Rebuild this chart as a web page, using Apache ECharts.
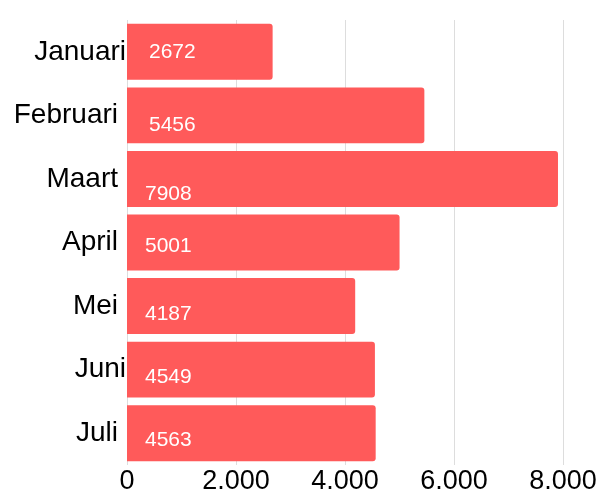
<!DOCTYPE html>
<html>
<head>
<meta charset="utf-8">
<script src="https://cdn.jsdelivr.net/npm/echarts@6/dist/echarts.min.js"></script>
<style>html,body{margin:0;padding:0;background:#fff;}#c{width:603px;height:490px;}</style>
</head>
<body>
<div id="c"></div>
<script>
var categories = ['Januari', 'Februari', 'Maart', 'April', 'Mei', 'Juni', 'Juli'];
var values = [2672, 5456, 7908, 5001, 4187, 4549, 4563];
var xTicks = [0, 2000, 4000, 6000, 8000];
// label offsets (style only): [dx, dy]
var labelOffsets = [[4, 0], [4, 9.5], [0, 15.5], [0, 4], [0, 8.5], [0, 8], [0, 6.5]];
// category label right padding (style only)
var catPad = [0, 8, 8, 8, 8, 0, 8];

function fmt(v) {
  return String(v).replace(/\B(?=(\d{3})+(?!\d))/g, '.');
}

var chart = echarts.init(document.getElementById('c'), null, {renderer: 'canvas'});
var data = values.map(function (v, i) {
  return {
    value: v,
    label: { offset: labelOffsets[i] }
  };
});
var catData = categories.map(function (c, i) {
  return { value: c, textStyle: { padding: [4, catPad[i], 0, 0] } };
});
chart.setOption({
  animation: false,
  grid: { left: 127, right: 40, top: 20, bottom: 25, containLabel: false, outerBoundsMode: 'none' },
  xAxis: {
    type: 'value',
    min: xTicks[0],
    max: xTicks[xTicks.length - 1],
    interval: 2000,
    axisLine: { show: false },
    axisTick: { show: false },
    splitLine: { show: true, lineStyle: { color: '#dddddd', width: 1 } },
    axisLabel: {
      color: '#000',
      fontSize: 27,
      fontFamily: 'Liberation Sans, Arial, sans-serif',
      margin: 3,
      formatter: function (v) { return fmt(v); }
    }
  },
  yAxis: {
    type: 'category',
    data: catData,
    inverse: true,
    axisLine: { show: false },
    axisTick: { show: false },
    splitLine: { show: false },
    axisLabel: {
      color: '#000',
      fontSize: 28,
      fontFamily: 'Liberation Sans, Arial, sans-serif',
      margin: 1
    }
  },
  series: [{
    type: 'bar',
    data: data,
    barCategoryGap: '12%',
    itemStyle: { color: '#ff5a5a', borderRadius: [0, 3, 3, 0] },
    label: {
      show: true,
      position: 'insideLeft',
      distance: 18,
      color: '#ffffff',
      fontSize: 21,
      fontFamily: 'Liberation Sans, Arial, sans-serif'
    }
  }]
});
</script>
</body>
</html>
